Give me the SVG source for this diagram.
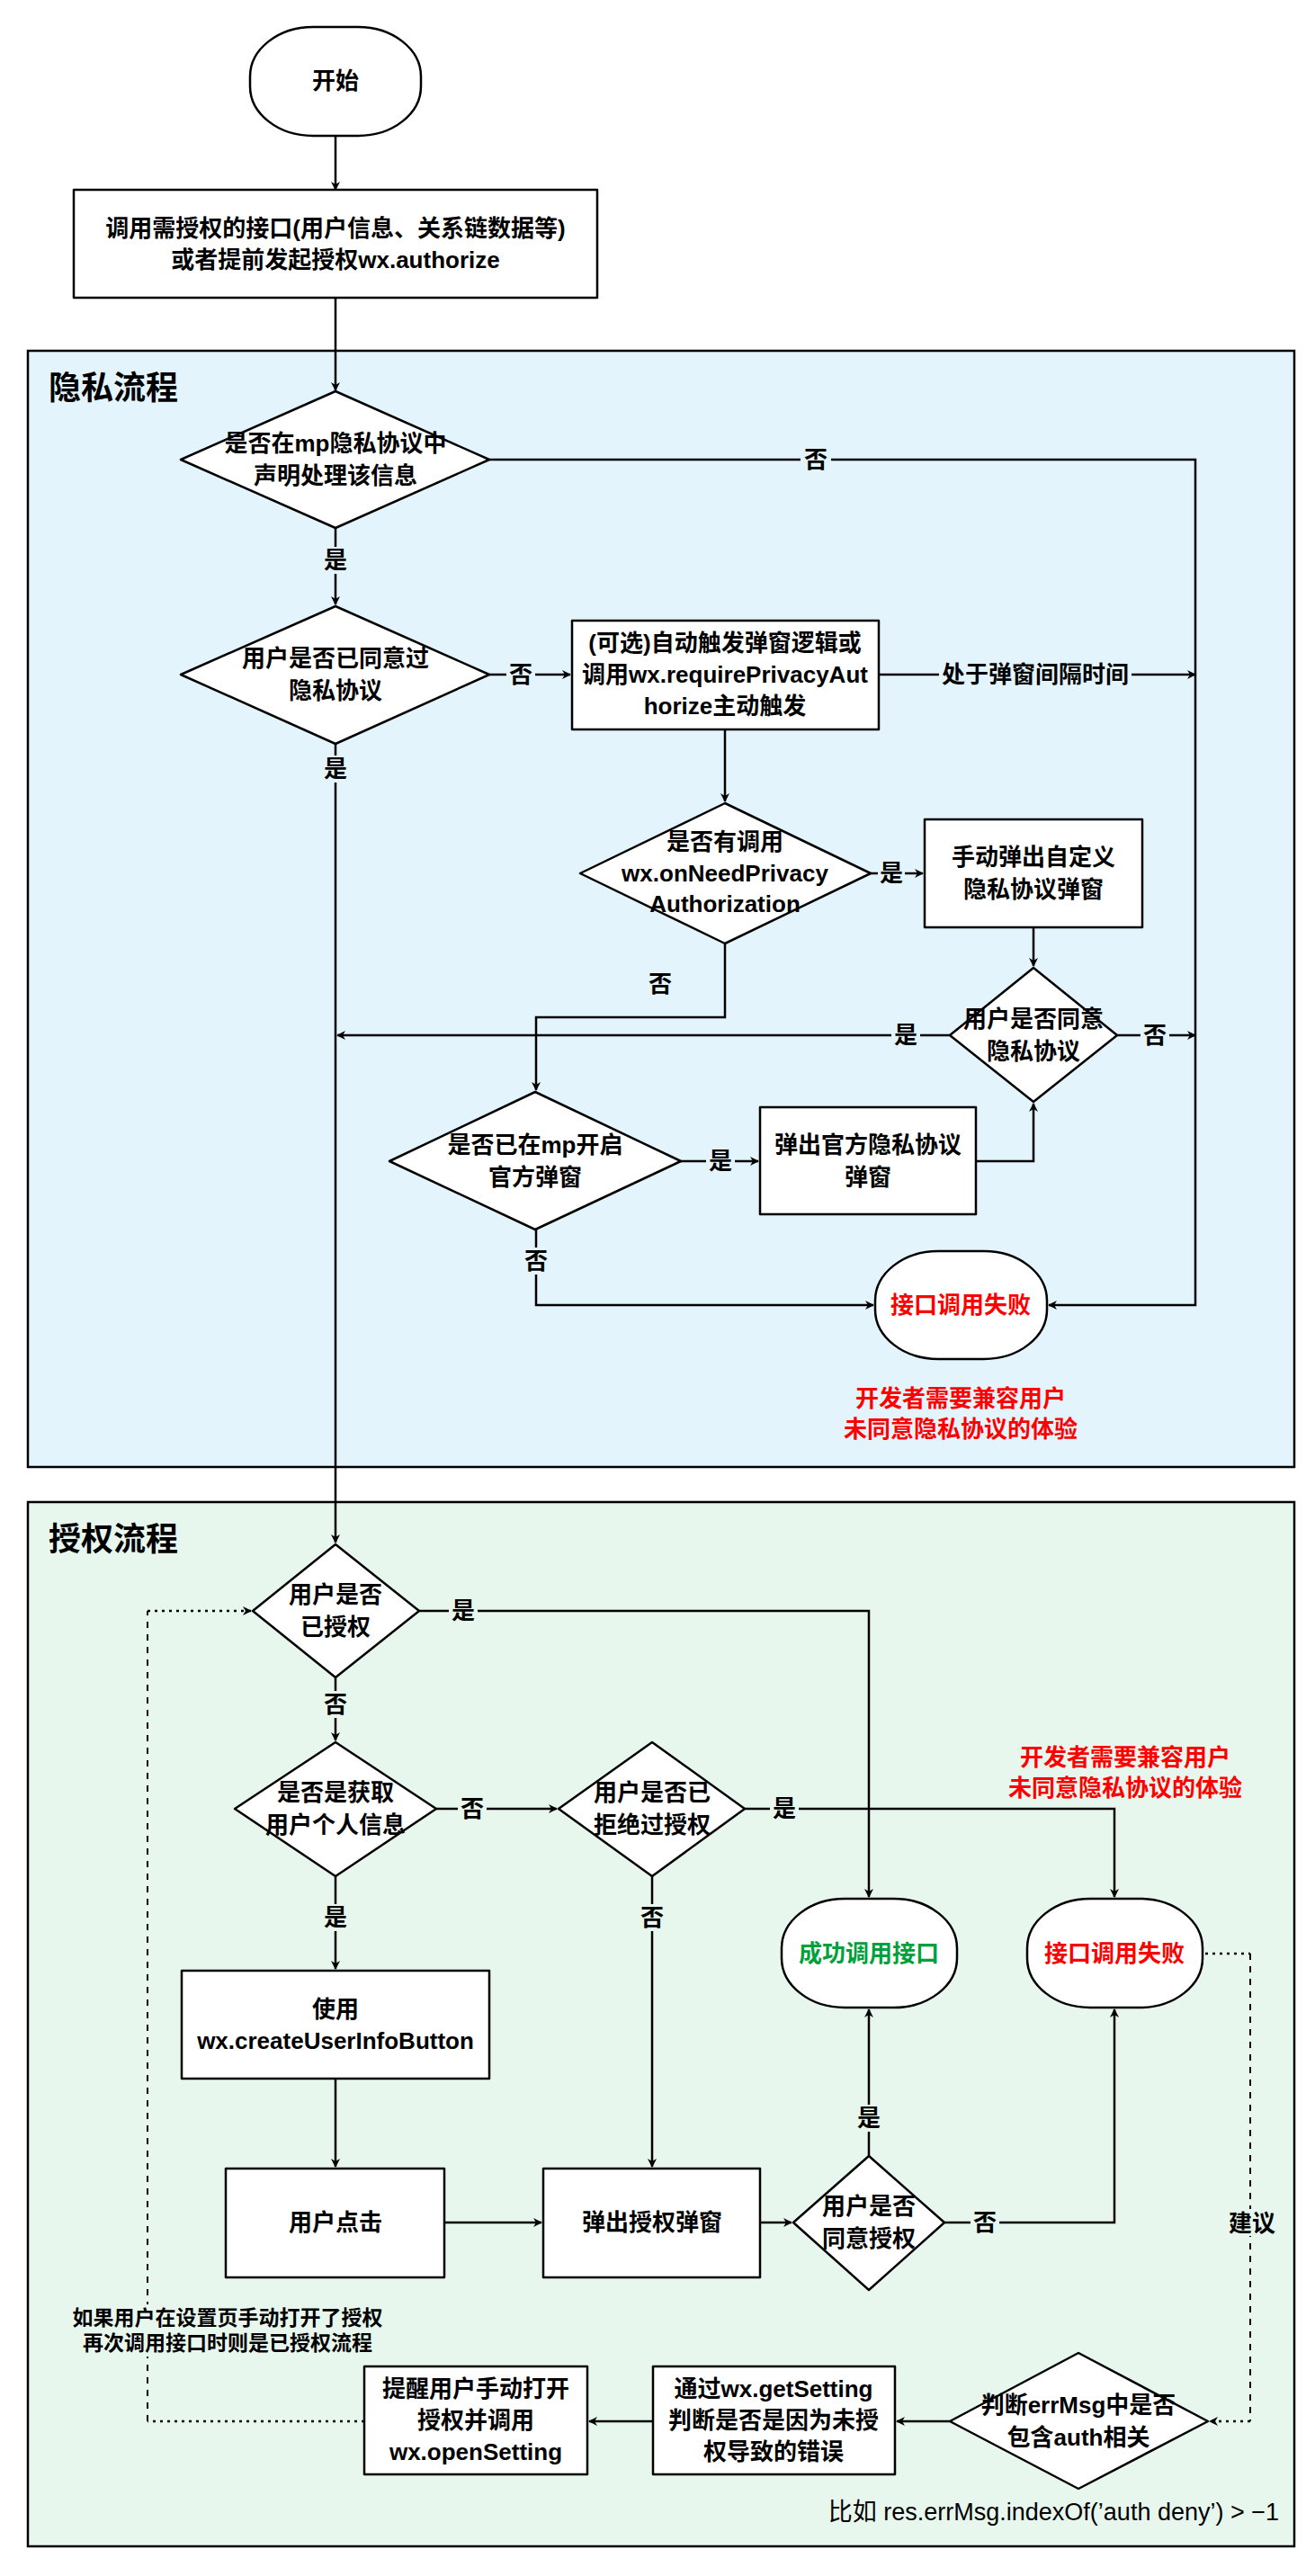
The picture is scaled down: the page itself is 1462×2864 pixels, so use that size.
<svg xmlns="http://www.w3.org/2000/svg" width="1462" height="2864" viewBox="0 0 1462 2864">
<style>
text{font-family:"Liberation Sans","Noto Sans CJK SC",sans-serif;font-size:26px;font-weight:bold;fill:#000;text-anchor:middle;dominant-baseline:central}
.n{fill:#fff;stroke:#000;stroke-width:2.5;stroke-linejoin:round}
.c{fill:none;stroke:#000;stroke-width:2.5}
.d{fill:none;stroke:#000;stroke-width:2;stroke-dasharray:7 7}
.dt{fill:none;stroke:#000;stroke-width:2.5;stroke-dasharray:3 5}
.red{fill:#ff0000}
.grn{fill:#00a03c}
.ttl{font-size:36px;text-anchor:start}
</style>
<defs>
<marker id="a" viewBox="0 0 10 10" refX="9" refY="5" markerWidth="10" markerHeight="10" markerUnits="userSpaceOnUse" orient="auto"><path d="M0,0 L10,5 L0,10 L3,5 Z" fill="#000"/></marker>
</defs>
<rect width="1462" height="2864" fill="#fff"/>
<g id="privacy-zone"><rect x="31" y="390" width="1408" height="1241" fill="#e4f4fc" stroke="#000" stroke-width="2.5"/><text class="ttl" x="54" y="431">隐私流程</text></g>
<g id="auth-zone"><rect x="31" y="1670" width="1408" height="1161" fill="#e8f7ee" stroke="#000" stroke-width="2.5"/><text class="ttl" x="54" y="1711">授权流程</text></g>

<g id="connectors">
<path class="c" d="M373,151 V211" marker-end="url(#a)"/>
<path class="c" d="M373,331 V434" marker-end="url(#a)"/>
<path class="c" d="M544,511 H1329 V1451 H1166" marker-end="url(#a)"/>
<path class="c" d="M373,587 V672" marker-end="url(#a)"/>
<path class="c" d="M544,750 H634" marker-end="url(#a)"/>
<path class="c" d="M977,750 H1329" marker-end="url(#a)"/>
<path class="c" d="M373,827 V1715" marker-end="url(#a)"/>
<path class="c" d="M806,811 V891" marker-end="url(#a)"/>
<path class="c" d="M968,971 H1026" marker-end="url(#a)"/>
<path class="c" d="M1149,1031 V1074" marker-end="url(#a)"/>
<path class="c" d="M1056,1151 H375" marker-end="url(#a)"/>
<path class="c" d="M1242,1151 H1329" marker-end="url(#a)"/>
<path class="c" d="M806,1049 V1131 H596 V1212" marker-end="url(#a)"/>
<path class="c" d="M757,1291 H843" marker-end="url(#a)"/>
<path class="c" d="M1085,1291 H1149 V1227" marker-end="url(#a)"/>
<path class="c" d="M596,1367 V1451 H971" marker-end="url(#a)"/>

<path class="c" d="M466,1791 H966 V2109" marker-end="url(#a)"/>
<path class="c" d="M373,1865 V1935" marker-end="url(#a)"/>
<path class="c" d="M485,2011 H619" marker-end="url(#a)"/>
<path class="c" d="M828,2011 H1239 V2109" marker-end="url(#a)"/>
<path class="c" d="M373,2086 V2189" marker-end="url(#a)"/>
<path class="c" d="M725,2086 V2409" marker-end="url(#a)"/>
<path class="c" d="M373,2311 V2409" marker-end="url(#a)"/>
<path class="c" d="M494,2471 H602" marker-end="url(#a)"/>
<path class="c" d="M845,2471 H880" marker-end="url(#a)"/>
<path class="c" d="M966,2397 V2234" marker-end="url(#a)"/>
<path class="c" d="M1050,2471 H1239 V2234" marker-end="url(#a)"/>
<path class="dt" d="M1340,2172 H1390"/>
<path class="d" d="M1390,2172 V2692"/>
<path class="dt" d="M1390,2692 H1345" marker-end="url(#a)"/>
<path class="c" d="M1056,2692 H997" marker-end="url(#a)"/>
<path class="c" d="M726,2692 H655" marker-end="url(#a)"/>
<path class="dt" d="M405,2692 H164"/>
<path class="d" d="M164,2692 V1791"/>
<path class="dt" d="M164,1791 H279" marker-end="url(#a)"/>

<g id="edge-labels">
<rect x="890" y="496" width="34" height="30" fill="#e4f4fc"/><text x="907" y="511">否</text>
<rect x="356" y="608" width="34" height="30" fill="#e4f4fc"/><text x="373" y="623">是</text>
<rect x="563" y="735" width="32" height="30" fill="#e4f4fc"/><text x="579" y="750">否</text>
<rect x="1044" y="735" width="214" height="30" fill="#e4f4fc"/><text x="1151" y="750">处于弹窗间隔时间</text>
<rect x="356" y="840" width="34" height="30" fill="#e4f4fc"/><text x="373" y="855">是</text>
<rect x="976" y="956" width="30" height="30" fill="#e4f4fc"/><text x="991" y="971">是</text>
<text x="734" y="1094">否</text>
<rect x="991" y="1136" width="32" height="30" fill="#e4f4fc"/><text x="1007" y="1151">是</text>
<rect x="1268" y="1136" width="32" height="30" fill="#e4f4fc"/><text x="1284" y="1151">否</text>
<rect x="785" y="1276" width="32" height="30" fill="#e4f4fc"/><text x="801" y="1291">是</text>
<rect x="580" y="1387" width="32" height="30" fill="#e4f4fc"/><text x="596" y="1402">否</text>
<rect x="499" y="1776" width="32" height="30" fill="#e8f7ee"/><text x="515" y="1791">是</text>
<rect x="357" y="1880" width="32" height="30" fill="#e8f7ee"/><text x="373" y="1895">否</text>
<rect x="509" y="1996" width="32" height="30" fill="#e8f7ee"/><text x="525" y="2011">否</text>
<rect x="856" y="1996" width="32" height="30" fill="#e8f7ee"/><text x="872" y="2011">是</text>
<rect x="357" y="2117" width="32" height="30" fill="#e8f7ee"/><text x="373" y="2132">是</text>
<rect x="709" y="2117" width="32" height="30" fill="#e8f7ee"/><text x="725" y="2132">否</text>
<rect x="950" y="2340" width="32" height="30" fill="#e8f7ee"/><text x="966" y="2355">是</text>
<rect x="1079" y="2456" width="32" height="30" fill="#e8f7ee"/><text x="1095" y="2471">否</text>
<rect x="1364" y="2456" width="56" height="30" fill="#e8f7ee"/><text x="1392" y="2472">建议</text>
</g>
</g>

<g id="start"><rect class="n" x="278" y="30" width="190" height="121" rx="70" ry="55"/><text x="373" y="90">开始</text></g>
<g id="call-api"><rect class="n" x="82" y="211" width="582" height="120"/><text x="373" y="254">调用需授权的接口(用户信息、关系链数据等)</text><text x="373" y="289">或者提前发起授权wx.authorize</text></g>
<g id="q-declared"><polygon class="n" points="373,435 544,511 373,587 201,511"/><text x="373" y="493">是否在mp隐私协议中</text><text x="373" y="529">声明处理该信息</text></g>
<g id="q-agreed"><polygon class="n" points="373,674 544,750 373,827 201,750"/><text x="373" y="732">用户是否已同意过</text><text x="373" y="768">隐私协议</text></g>
<g id="trigger"><rect class="n" x="636" y="690" width="341" height="121"/><text x="806" y="715">(可选)自动触发弹窗逻辑或</text><text x="806" y="750">调用wx.requirePrivacyAut</text><text x="806" y="785">horize主动触发</text></g>
<g id="q-onneed"><polygon class="n" points="806,893 968,971 806,1049 645,971"/><text x="806" y="936">是否有调用</text><text x="806" y="971">wx.onNeedPrivacy</text><text x="806" y="1005">Authorization</text></g>
<g id="custom-popup"><rect class="n" x="1028" y="911" width="242" height="120"/><text x="1149" y="953">手动弹出自定义</text><text x="1149" y="989">隐私协议弹窗</text></g>
<g id="q-user-agree"><polygon class="n" points="1149,1076 1242,1151 1149,1225 1056,1151"/><text x="1149" y="1133">用户是否同意</text><text x="1149" y="1169">隐私协议</text></g>
<g id="q-official"><polygon class="n" points="595,1214 757,1291 595,1367 433,1291"/><text x="595" y="1273">是否已在mp开启</text><text x="595" y="1309">官方弹窗</text></g>
<g id="official-popup"><rect class="n" x="845" y="1231" width="240" height="119"/><text x="965" y="1273">弹出官方隐私协议</text><text x="965" y="1309">弹窗</text></g>
<g id="fail1"><rect class="n" x="973" y="1391" width="191" height="120" rx="70" ry="55"/><text class="red" x="1068" y="1451">接口调用失败</text></g>
<g id="note1"><text class="red" x="1068" y="1555">开发者需要兼容用户</text><text class="red" x="1068" y="1589">未同意隐私协议的体验</text></g>

<g id="q-authorized"><polygon class="n" points="373,1717 466,1791 373,1865 281,1791"/><text x="373" y="1773">用户是否</text><text x="373" y="1809">已授权</text></g>
<g id="q-userinfo"><polygon class="n" points="373,1937 485,2011 373,2086 261,2011"/><text x="373" y="1993">是否是获取</text><text x="373" y="2029">用户个人信息</text></g>
<g id="q-refused"><polygon class="n" points="725,1937 828,2011 725,2086 621,2011"/><text x="725" y="1993">用户是否已</text><text x="725" y="2029">拒绝过授权</text></g>
<g id="note2"><text class="red" x="1251" y="1954">开发者需要兼容用户</text><text class="red" x="1251" y="1988">未同意隐私协议的体验</text></g>
<g id="success"><rect class="n" x="869" y="2111" width="195" height="121" rx="70" ry="55"/><text class="grn" x="966" y="2172">成功调用接口</text></g>
<g id="fail2"><rect class="n" x="1142" y="2111" width="195" height="121" rx="70" ry="55"/><text class="red" x="1239" y="2172">接口调用失败</text></g>
<g id="userinfo-btn"><rect class="n" x="202" y="2191" width="342" height="120"/><text x="373" y="2234">使用</text><text x="373" y="2269">wx.createUserInfoButton</text></g>
<g id="user-click"><rect class="n" x="251" y="2411" width="243" height="121"/><text x="373" y="2471">用户点击</text></g>
<g id="auth-popup"><rect class="n" x="604" y="2411" width="241" height="121"/><text x="725" y="2471">弹出授权弹窗</text></g>
<g id="q-agree-auth"><polygon class="n" points="966,2397 1050,2471 966,2546 882,2471"/><text x="966" y="2453">用户是否</text><text x="966" y="2489">同意授权</text></g>
<g id="note3"><rect x="66" y="2562" width="374" height="58" fill="#e8f7ee"/><text x="253" y="2577" style="font-size:23px">如果用户在设置页手动打开了授权</text><text x="253" y="2605" style="font-size:23px">再次调用接口时则是已授权流程</text></g>
<g id="q-errmsg"><polygon class="n" points="1199,2616 1343,2692 1199,2767 1056,2692"/><text x="1199" y="2674">判断errMsg中是否</text><text x="1199" y="2710">包含auth相关</text></g>
<g id="getsetting"><rect class="n" x="726" y="2631" width="269" height="120"/><text x="860" y="2656">通过wx.getSetting</text><text x="860" y="2691">判断是否是因为未授</text><text x="860" y="2726">权导致的错误</text></g>
<g id="opensetting"><rect class="n" x="405" y="2631" width="248" height="120"/><text x="529" y="2656">提醒用户手动打开</text><text x="529" y="2691">授权并调用</text><text x="529" y="2726">wx.openSetting</text></g>
<g id="note4"><text x="1422" y="2793" style="text-anchor:end;font-weight:normal;font-size:27px">比如 res.errMsg.indexOf(’auth deny’) &gt; −1</text></g>
</svg>
